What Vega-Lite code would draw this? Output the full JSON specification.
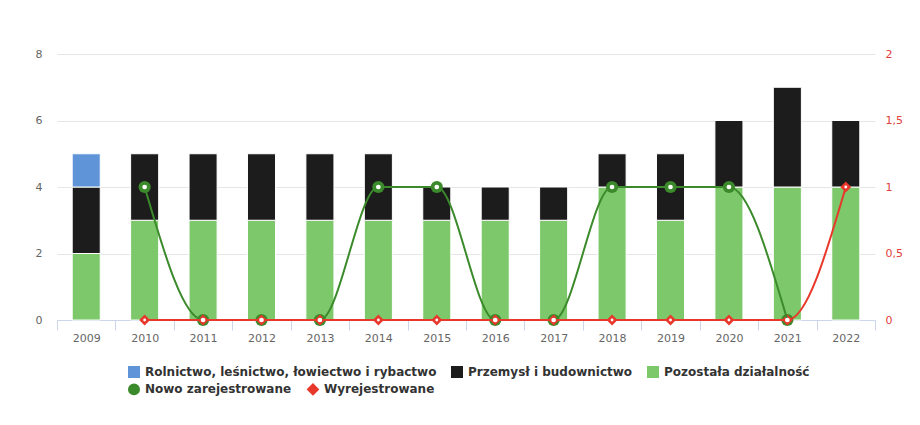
{
  "$schema": "https://vega.github.io/schema/vega-lite/v6.json",
  "width": 818,
  "height": 266,
  "autosize": {"type": "none"},
  "padding": {"left": 57, "top": 54, "right": 45, "bottom": 105},
  "background": "white",
  "config": {
    "view": {"stroke": null},
    "font": "DejaVu Sans",
    "legend": {"labelFont": "DejaVu Sans", "labelFontSize": 12, "labelFontWeight": "bold", "labelColor": "#333333", "labelLimit": 500}
  },
  "datasets": {
    "bars": [
      {"rok": "2009", "sekcja": "Pozostała działalność", "liczba": 2},
      {"rok": "2009", "sekcja": "Przemysł i budownictwo", "liczba": 2},
      {"rok": "2009", "sekcja": "Rolnictwo, leśnictwo, łowiectwo i rybactwo", "liczba": 1},
      {"rok": "2010", "sekcja": "Pozostała działalność", "liczba": 3},
      {"rok": "2010", "sekcja": "Przemysł i budownictwo", "liczba": 2},
      {"rok": "2011", "sekcja": "Pozostała działalność", "liczba": 3},
      {"rok": "2011", "sekcja": "Przemysł i budownictwo", "liczba": 2},
      {"rok": "2012", "sekcja": "Pozostała działalność", "liczba": 3},
      {"rok": "2012", "sekcja": "Przemysł i budownictwo", "liczba": 2},
      {"rok": "2013", "sekcja": "Pozostała działalność", "liczba": 3},
      {"rok": "2013", "sekcja": "Przemysł i budownictwo", "liczba": 2},
      {"rok": "2014", "sekcja": "Pozostała działalność", "liczba": 3},
      {"rok": "2014", "sekcja": "Przemysł i budownictwo", "liczba": 2},
      {"rok": "2015", "sekcja": "Pozostała działalność", "liczba": 3},
      {"rok": "2015", "sekcja": "Przemysł i budownictwo", "liczba": 1},
      {"rok": "2016", "sekcja": "Pozostała działalność", "liczba": 3},
      {"rok": "2016", "sekcja": "Przemysł i budownictwo", "liczba": 1},
      {"rok": "2017", "sekcja": "Pozostała działalność", "liczba": 3},
      {"rok": "2017", "sekcja": "Przemysł i budownictwo", "liczba": 1},
      {"rok": "2018", "sekcja": "Pozostała działalność", "liczba": 4},
      {"rok": "2018", "sekcja": "Przemysł i budownictwo", "liczba": 1},
      {"rok": "2019", "sekcja": "Pozostała działalność", "liczba": 3},
      {"rok": "2019", "sekcja": "Przemysł i budownictwo", "liczba": 2},
      {"rok": "2020", "sekcja": "Pozostała działalność", "liczba": 4},
      {"rok": "2020", "sekcja": "Przemysł i budownictwo", "liczba": 2},
      {"rok": "2021", "sekcja": "Pozostała działalność", "liczba": 4},
      {"rok": "2021", "sekcja": "Przemysł i budownictwo", "liczba": 3},
      {"rok": "2022", "sekcja": "Pozostała działalność", "liczba": 4},
      {"rok": "2022", "sekcja": "Przemysł i budownictwo", "liczba": 2}
    ],
    "lines": [
      {"rok": "2010", "seria": "Nowo zarejestrowane", "wartosc": 1},
      {"rok": "2011", "seria": "Nowo zarejestrowane", "wartosc": 0},
      {"rok": "2012", "seria": "Nowo zarejestrowane", "wartosc": 0},
      {"rok": "2013", "seria": "Nowo zarejestrowane", "wartosc": 0},
      {"rok": "2014", "seria": "Nowo zarejestrowane", "wartosc": 1},
      {"rok": "2015", "seria": "Nowo zarejestrowane", "wartosc": 1},
      {"rok": "2016", "seria": "Nowo zarejestrowane", "wartosc": 0},
      {"rok": "2017", "seria": "Nowo zarejestrowane", "wartosc": 0},
      {"rok": "2018", "seria": "Nowo zarejestrowane", "wartosc": 1},
      {"rok": "2019", "seria": "Nowo zarejestrowane", "wartosc": 1},
      {"rok": "2020", "seria": "Nowo zarejestrowane", "wartosc": 1},
      {"rok": "2021", "seria": "Nowo zarejestrowane", "wartosc": 0},
      {"rok": "2010", "seria": "Wyrejestrowane", "wartosc": 0},
      {"rok": "2011", "seria": "Wyrejestrowane", "wartosc": 0},
      {"rok": "2012", "seria": "Wyrejestrowane", "wartosc": 0},
      {"rok": "2013", "seria": "Wyrejestrowane", "wartosc": 0},
      {"rok": "2014", "seria": "Wyrejestrowane", "wartosc": 0},
      {"rok": "2015", "seria": "Wyrejestrowane", "wartosc": 0},
      {"rok": "2016", "seria": "Wyrejestrowane", "wartosc": 0},
      {"rok": "2017", "seria": "Wyrejestrowane", "wartosc": 0},
      {"rok": "2018", "seria": "Wyrejestrowane", "wartosc": 0},
      {"rok": "2019", "seria": "Wyrejestrowane", "wartosc": 0},
      {"rok": "2020", "seria": "Wyrejestrowane", "wartosc": 0},
      {"rok": "2021", "seria": "Wyrejestrowane", "wartosc": 0},
      {"rok": "2022", "seria": "Wyrejestrowane", "wartosc": 1}
    ]
  },
  "layer": [
    {
      "data": {"name": "bars"},
      "mark": {"type": "bar", "stroke": "white", "strokeWidth": 1, "width": {"band": 0.48}},
      "encoding": {
        "x": {
          "field": "rok", "type": "ordinal",
          "scale": {"paddingInner": 0, "paddingOuter": 0},
          "axis": {
            "title": null, "labelAngle": 0, "domainColor": "#ccd6eb", "tickColor": "#ccd6eb",
            "tickBand": "extent", "tickSize": 10, "labelColor": "#666666", "labelFontSize": 11,
            "labelPadding": 2, "grid": false
          }
        },
        "y": {
          "field": "liczba", "type": "quantitative", "stack": "zero",
          "scale": {"domain": [0, 8], "nice": false},
          "axis": {
            "title": null, "values": [0, 2, 4, 6, 8], "domain": false, "ticks": false,
            "labelPadding": 15, "labelColor": "#666666", "labelFontSize": 11,
            "gridColor": "#e6e6e6", "grid": true
          }
        },
        "order": {"field": "sekcja", "type": "nominal", "sort": "ascending"},
        "color": {
          "field": "sekcja", "type": "nominal",
          "scale": {
            "domain": ["Rolnictwo, leśnictwo, łowiectwo i rybactwo", "Przemysł i budownictwo", "Pozostała działalność"],
            "range": ["#5f95d8", "#1c1c1c", "#7dc86a"]
          },
          "legend": {
            "title": null, "orient": "none", "legendX": 71, "legendY": 312,
            "direction": "horizontal", "columns": 3, "columnPadding": 14,
            "symbolType": "square", "symbolSize": 144, "symbolStrokeWidth": 0, "labelOffset": 5
          }
        }
      }
    },
    {
      "data": {"name": "lines"},
      "encoding": {
        "x": {"field": "rok", "type": "ordinal"},
        "y": {
          "field": "wartosc", "type": "quantitative",
          "scale": {"domain": [0, 2], "nice": false},
          "axis": {
            "title": null, "orient": "right", "values": [0, 0.5, 1, 1.5, 2], "domain": false,
            "ticks": false, "grid": false, "labelPadding": 10, "labelColor": "#e0413a",
            "labelFontSize": 11, "labelExpr": "replace(format(datum.value, ''), '.', ',')"
          }
        }
      },
      "layer": [
        {
          "mark": {"type": "point", "filled": true, "opacity": 1},
          "encoding": {
            "color": {
              "field": "seria", "type": "nominal",
              "scale": {"domain": ["Nowo zarejestrowane", "Wyrejestrowane"], "range": ["#3b8a2b", "#e8382b"]},
              "legend": {
                "title": null, "orient": "none", "legendX": 71, "legendY": 329,
                "direction": "horizontal", "columns": 2, "columnPadding": 12,
                "symbolSize": 110, "labelOffset": 5
              }
            },
            "shape": {
              "field": "seria", "type": "nominal",
              "scale": {"domain": ["Nowo zarejestrowane", "Wyrejestrowane"], "range": ["circle", "diamond"]},
              "legend": {
                "title": null, "orient": "none", "legendX": 71, "legendY": 329,
                "direction": "horizontal", "columns": 2, "columnPadding": 12,
                "symbolSize": 110, "labelOffset": 5
              }
            },
            "size": {
              "field": "seria", "type": "nominal",
              "scale": {"domain": ["Nowo zarejestrowane", "Wyrejestrowane"], "range": [150, 120]},
              "legend": null
            }
          }
        },
        {
          "mark": {"type": "line", "interpolate": "monotone", "strokeWidth": 2},
          "encoding": {
            "color": {
              "field": "seria", "type": "nominal",
              "scale": {"domain": ["Nowo zarejestrowane", "Wyrejestrowane"], "range": ["#3b8a2b", "#e8382b"]}
            }
          }
        },
        {
          "mark": {"type": "point", "filled": true, "opacity": 1, "shape": "circle", "fill": "white", "stroke": null},
          "encoding": {
            "opacity": {"value": 1},
            "size": {
              "field": "seria", "type": "nominal",
              "scale": {"domain": ["Nowo zarejestrowane", "Wyrejestrowane"], "range": [22, 8]},
              "legend": null
            }
          }
        }
      ],
      "resolve": {"scale": {"size": "independent"}}
    }
  ],
  "resolve": {"scale": {"y": "independent", "color": "independent", "shape": "independent"}}
}
